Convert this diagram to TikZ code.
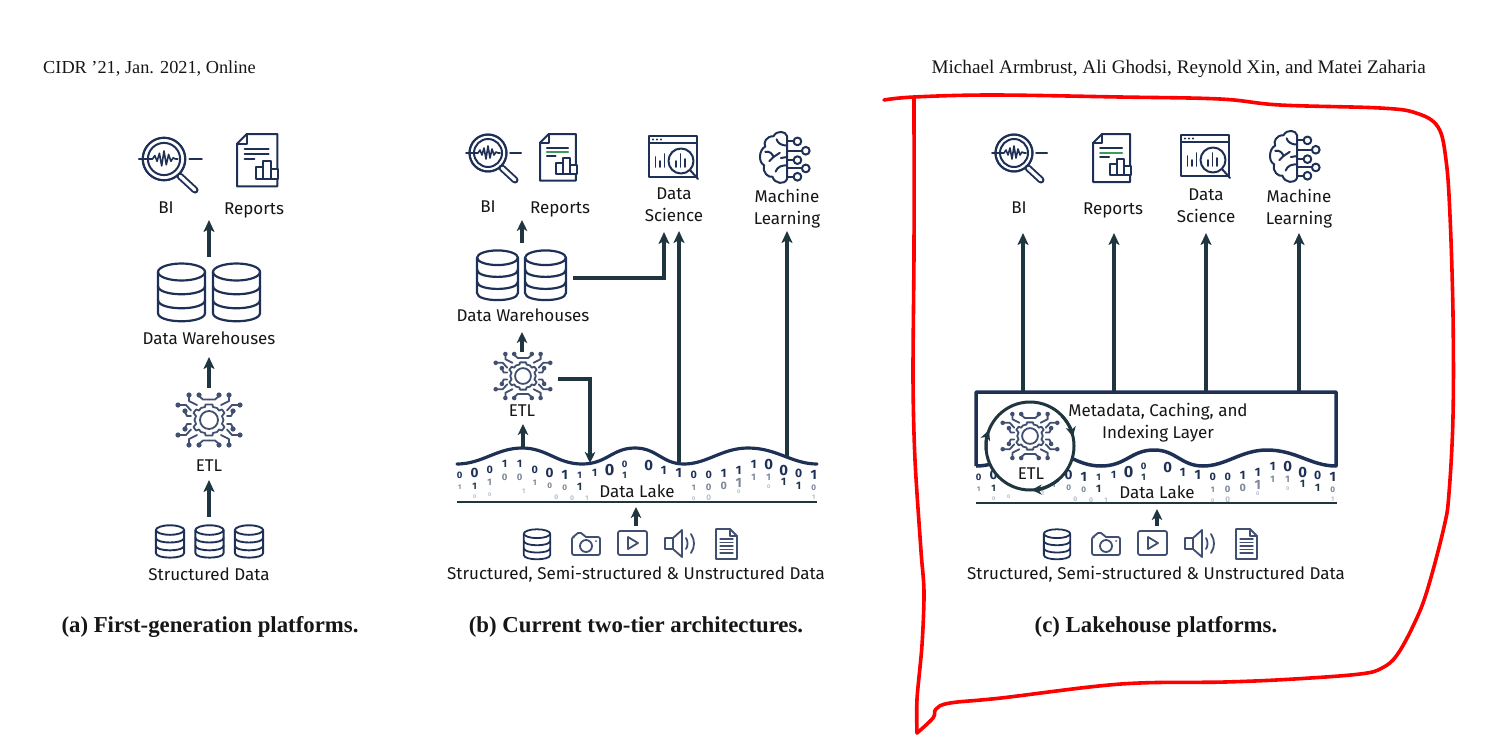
\documentclass[tikz,border=0pt]{standalone}
\usepackage{fontspec}
\setmainfont{Liberation Serif}
\setsansfont{Fira Sans}
\usetikzlibrary{arrows.meta,calc}
\definecolor{navy}{HTML}{1F3057}
\definecolor{slate}{HTML}{1F3540}
\definecolor{ink}{HTML}{161616}
\definecolor{bitgrey}{HTML}{7C8698}
\definecolor{bitpale}{HTML}{B8BECA}
\definecolor{hand}{HTML}{FF0000}
\definecolor{accent}{HTML}{3E9A5C}
\tikzset{
  x=1pt,y=-1pt,
  lbl/.style={font=\sffamily\fontsize{17}{19}\selectfont,text=ink,inner sep=0pt,align=center},
  headl/.style={font=\rmfamily\fontsize{18.3}{20}\selectfont,text=ink,inner sep=0pt},
  headr/.style={font=\rmfamily\fontsize{19.2}{20}\selectfont,text=ink,inner sep=0pt},
  capt/.style={font=\rmfamily\bfseries\fontsize{22.8}{24}\selectfont,text=ink,inner sep=0pt},
  flow/.style={draw=slate,line width=3.6pt,-{Stealth[length=12pt,width=11pt,inset=3pt]}},
  flowthin/.style={draw=slate,line width=3.3pt,-{Stealth[length=11pt,width=10.5pt,inset=3pt]}},
  icon/.style={draw=navy,line width=2pt,line join=round,line cap=round},
  iconthin/.style={draw=navy!85!white,line width=1.8pt,line join=round,line cap=round},
  digit/.style={inner sep=0pt},
  pics/biicon/.style={code={
    \draw[icon] (0,0) circle (18.5);
    \draw[icon] (0,0) circle (14);
    \draw[icon,line width=1.6pt] (-22,0)--(-10,0)--(-8,-3)--(-6,2)--(-4,-5)--(-2,6)--(0,-7)--(2,5)--(4,-4)--(6,2)--(8,-1)--(10,0)--(12,0);
    \draw[icon] (22,0)--(33,0);
    \draw[navy,line width=7pt,line cap=round] (14,15)--(27,27);
    \draw[white,line width=3.2pt,line cap=round] (14,15)--(27,27);
    \draw[icon] (0,0) circle (18.5);
  }},
  pics/repicon/.style={code={
    \draw[icon] (9,0)--(37,0)--(37,48)--(0,48)--(0,9)--cycle;
    \draw[icon] (9,0)--(9,9)--(0,9);
    \draw[icon] (7,14)--(29,14);
    \draw[icon,draw=#1] (7,18.5)--(29,18.5);
    \draw[icon] (7,23)--(16,23);
    \draw[icon,fill=white] (17,30)--(24,30)--(24,41)--(17,41)--cycle;
    \draw[icon,fill=white] (24,25)--(31,25)--(31,41)--(24,41)--cycle;
    \draw[icon,fill=white] (31,32)--(38,32)--(38,41)--(31,41)--cycle;
  }},
  pics/dsicon/.style={code={
    \draw[icon,line width=2.2pt] (0,0) rectangle (48,41);
    \draw[icon] (0,7)--(48,7);
    \foreach \q in {4,8,12} \fill[navy] (\q,3.5) circle (1.1);
    \draw[icon,line width=1.7pt] (6.5,21)--(6.5,31) (11,25)--(11,31) (15.5,18)--(15.5,31);
    \draw[icon,fill=white] (32,25) circle (12.5);
    \draw[icon,line width=1.7pt] (27,25)--(27,31) (31.5,18)--(31.5,31) (36,23)--(36,31);
    \draw[icon] (41,34)--(49,43);
  }},
  pics/brainicon/.style={code={
    \draw[icon] (26,5) .. controls (25,0) and (16,-1) .. (13,5)
       .. controls (6,5) and (3,11) .. (5,15)
       .. controls (-1,18) and (-2,30) .. (4,33)
       .. controls (2,40) and (8,45) .. (12,44)
       .. controls (14,51) and (24,52) .. (26,46)--cycle;
    \draw[icon] (26,10)--(32,10) (26,19)--(40,19) (26,28)--(32,28) (26,36)--(40,36) (26,44)--(32,44);
    \foreach \p/\q in {36/10,44/19,36/28,44/36,36/44} \draw[icon] (\p,\q) circle (3.7);
    \draw[icon] (26,14) .. controls (21,14) and (17,12) .. (16,8);
    \draw[icon] (5,20) .. controls (9,19) and (12,22) .. (13,25)--(19,21);
    \draw[icon] (13,25)--(9,29);
    \draw[icon] (26,33) .. controls (21,33) and (17,34) .. (15,39);
    \draw[icon] (26,25)--(20,26);
  }},
  pics/dbicon/.style={code={
    \draw[icon,line width=#1] (0,9) ellipse (23.5 and 8.5);
    \draw[icon,line width=#1] (-23.5,9)--(-23.5,50) .. controls (-23.5,61) and (23.5,61) .. (23.5,50)--(23.5,9);
    \draw[icon,line width=#1] (-23.5,23) .. controls (-23.5,34) and (23.5,34) .. (23.5,23);
    \draw[icon,line width=#1] (-23.5,37) .. controls (-23.5,48) and (23.5,48) .. (23.5,37);
  }},
  pics/etlicon/.style={code={
    \draw[iconthin] (0,0) circle (9);
    \draw[iconthin] (-4,-13)--(-3.5,-15.5)--(3.5,-15.5)--(4,-13)--(8,-12)--(10,-9.5)--(13,-10.5)--(15.5,-7)--(13,-4)--(14.5,0)--(13,4)--(15.5,7)--(13,10.5)--(10,9.5)--(8,12)--(4,13)--(3.5,15.5)--(-3.5,15.5)--(-4,13)--(-8,12)--(-10,9.5)--(-13,10.5)--(-15.5,7)--(-13,4)--(-14.5,0)--(-13,-4)--(-15.5,-7)--(-13,-10.5)--(-10,-9.5)--(-8,-12)--cycle;
    \foreach \sx in {1,-1} \foreach \sy in {1,-1} {
      \begin{scope}[xscale=\sx,yscale=\sy]
        \draw[iconthin] (10,-24)--(6,-20.5)--(0,-20.5);
        \draw[iconthin] (20,-24)--(20,-19)--(12,-15);
        \draw[iconthin] (30,-15)--(23,-15)--(18,-9.5);
        \draw[iconthin] (24,-8)--(22,-4)--(18,-4);
        \foreach \p/\q in {10/-25,20/-25,31/-15,24/-9} \fill[navy!85!white] (\p,\q) circle (2.6);
      \end{scope}
    }
  }},
  pics/camicon/.style={code={
    \draw[iconthin,rounded corners=2pt] (0,4)--(3,4)--(4,0)--(11,0)--(12,4)--(28,4)--(28,22)--(0,22)--cycle;
    \draw[iconthin] (14,13) circle (6);
    \fill[navy!85!white] (24,8) circle (1);
  }},
  pics/playicon/.style={code={
    \draw[iconthin,rounded corners=2pt] (0,0) rectangle (29,24);
    \draw[iconthin] (10,6)--(20,12)--(10,18)--cycle;
  }},
  pics/spkicon/.style={code={
    \draw[iconthin] (0,8)--(8,8)--(17,0)--(17,27)--(8,19)--(0,19)--cycle;
    \draw[iconthin] (8,8)--(8,19);
    \draw[iconthin] (21,8) .. controls (23,11) and (23,16) .. (21,19);
    \draw[iconthin] (26,4) .. controls (30,10) and (30,17) .. (26,23);
  }},
  pics/docicon/.style={code={
    \draw[iconthin] (0,0)--(14,0)--(21,7)--(21,30)--(0,30)--cycle;
    \draw[iconthin,line width=1.2pt] (14,0)--(14,7)--(21,7);
    \foreach \q in {10,13.5,17,20.5,24} \draw[iconthin,line width=1.3pt] (4,\q)--(17,\q);
  }},
  pics/lakebits/.style={code={
    \foreach \zx/\zy/\c/\s/\col [count=\n] in {
      58/405/0/7/navy,103/400/0/10/navy,148/390/0/8/navy,193/372/1/8/navy,238/372/1/8/navy,283/390/0/8/navy,328/400/0/10/navy,373/405/1/10/navy,418/405/1/7/navy,463/400/1/8/navy,508/390/0/12/navy,553/373/0/7/navy,625/375/0/11/navy,670/390/1/9/navy,715/400/1/10/navy,760/405/0/8/navy,805/405/0/8/navy,850/400/1/9/navy,895/390/1/9/navy,940/373/1/9/navy,985/373/0/11/navy,1030/390/0/11/navy,1075/400/0/9/navy,1120/405/1/10/navy,
      58/442/1/5/bitgrey,103/438/1/7/slate,148/428/1/7/bitgrey,193/412/0/7/bitgrey,238/412/0/7/bitgrey,283/428/1/6/bitgrey,328/438/0/6/bitgrey,373/443/0/6/bitgrey,418/442/1/8/slate,553/407/1/7/slate,760/442/1/6/bitgrey,805/442/0/7/bitgrey,850/438/0/8/bitgrey,895/428/1/10/bitgrey,940/412/1/7/bitgrey,985/412/1/7/bitgrey,1030/425/1/8/slate,1075/438/1/8/slate,1120/442/0/6/bitgrey,
      103/470/0/4/bitpale,148/465/0/4/bitpale,250/455/1/5/bitpale,348/472/0/5/bitpale,395/476/0/5/bitpale,440/474/1/5/bitpale,760/475/0/4/bitpale,805/472/0/6/bitpale,895/455/0/4/bitpale,985/440/0/4/bitpale,1120/472/1/5/bitpale}
      {
        \pgfmathsetmacro\ss{\s*1.35}
        \pgfmathtruncatemacro\hid{#1*((((\zx-50)/3-54)/10)^2+(((\zy-372)/3+20)/10)^2<20.5)}
        \ifnum\hid=0
          \node[digit,text=\col,font=\sffamily\bfseries\fontsize{\ss}{\ss}\selectfont] (bit\n) at ({(\zx-50)/3},{(\zy-372)/3}) {\c};
        \fi
      }
  }},
}
\newcommand{\wavepath}{(0,0) .. controls (25,0) and (40,-16) .. (65,-16) .. controls (90,-16) and (100,0) .. (125,0) .. controls (150,0) and (155,-16) .. (178,-16) .. controls (200,-16) and (205,0) .. (227,0) .. controls (250,0) and (265,-16) .. (291,-16) .. controls (320,-16) and (335,0) .. (360,0)}
\begin{document}
\begin{tikzpicture}
\useasboundingbox (0,0) rectangle (1506,734);
\fill[white] (0,0) rectangle (1506,734);

% headers
\node[headl,anchor=west] (hl) at (43,69) {CIDR ’21, Jan. 2021, Online};
\node[headr,anchor=east] (hr) at (1426,69) {Michael Armbrust, Ali Ghodsi, Reynold Xin, and Matei Zaharia};
\node[capt] (ca) at (210,627) {(a) First-generation platforms.};
\node[capt] (cb) at (636,627) {(b) Current two-tier architectures.};
\node[capt] (cc) at (1156,627) {(c) Lakehouse platforms.};

% ---------- panel a ----------
\pic[scale=1.15] (abi) at (164,159) {biicon};
\pic[scale=1.09] (arep) at (237,134) {repicon={navy}};
\pic (adb1) at (181.5,263) {dbicon={2.2pt}};
\pic (adb2) at (236.5,263) {dbicon={2.2pt}};
\pic (aetl) at (209,420) {etlicon};
\pic[xscale=.6,yscale=.56] (as1) at (170,525) {dbicon={1.9pt}};
\pic[xscale=.6,yscale=.56] (as2) at (209.5,525) {dbicon={1.9pt}};
\pic[xscale=.6,yscale=.56] (as3) at (249,525) {dbicon={1.9pt}};
\node[lbl] (abil) at (166,208) {BI};
\node[lbl] (arepl) at (254,210) {Reports};
\node[lbl] (adwl) at (209,338) {Data Warehouses};
\node[lbl] (aetll) at (209,466) {ETL};
\node[lbl] (asl) at (209,574) {Structured Data};
\coordinate (a1s) at (209,257); \coordinate (a1e) at (209,220);
\coordinate (a2s) at (209,388); \coordinate (a2e) at (209,357);
\coordinate (a3s) at (209,517); \coordinate (a3e) at (209,480);
\draw[flow] (a1s)--(a1e);
\draw[flow] (a2s)--(a2e);
\draw[flow] (a3s)--(a3e);

% ---------- panel b ----------
\pic (bbi) at (488,153) {biicon};
\pic[scale=.97] (brep) at (540,134) {repicon={accent}};
\pic (bds) at (649,136) {dsicon};
\pic[scale=1.04] (bbr) at (760,131) {brainicon};
\pic[xscale=.87,yscale=.86] (bdb1) at (497.5,250) {dbicon={2.2pt}};
\pic[xscale=.87,yscale=.86] (bdb2) at (545.5,250) {dbicon={2.2pt}};
\pic[scale=.88] (betl) at (523,376) {etlicon};
\node[lbl] (bbil) at (488,207) {BI};
\node[lbl] (brepl) at (560,209) {Reports};
\node[lbl] (bdsl) at (674,205) {Data\\[3pt]Science};
\node[lbl] (bbrl) at (787,209) {Machine\\[3pt]Learning};
\node[lbl] (bdwl) at (523,315) {Data Warehouses};
\node[lbl] (betll) at (522,411) {ETL};
\begin{scope}[shift={(457,464)}]
  \pic (bbits) at (0,0) {lakebits={0}};
  \draw[navy,line width=3.2pt,line cap=round] \wavepath;
\end{scope}
\node[lbl] (bdl) at (637,491) {Data Lake};
\coordinate (blakeL) at (457,502); \coordinate (blakeR) at (817,502);
\draw[slate,line width=2.6pt] (blakeL)--(blakeR);
\pic[xscale=.56,yscale=.52] (bsdb) at (537,529) {dbicon={1.8pt}};
\pic (bscam) at (572,533) {camicon};
\pic (bsply) at (618,531) {playicon};
\pic (bsspk) at (665,530) {spkicon};
\pic (bsdoc) at (716,529) {docicon};
\node[lbl] (bsl) at (636,574) {Structured, Semi-structured \& Unstructured Data};
\coordinate (b1s) at (522,243); \coordinate (b1e) at (522,220);
\coordinate (b2s) at (522,352); \coordinate (b2e) at (522,332);
\coordinate (b3s) at (523,448); \coordinate (b3e) at (523,424);
\coordinate (b4s) at (573,278); \coordinate (b4m) at (664,278); \coordinate (b4e) at (664,232);
\coordinate (b5s) at (679,462); \coordinate (b5e) at (679,231);
\coordinate (b6s) at (787,457); \coordinate (b6e) at (787,231);
\coordinate (b7s) at (558,379); \coordinate (b7m) at (590,379); \coordinate (b7e) at (590,463);
\coordinate (b8s) at (636,526); \coordinate (b8e) at (636,507);
\draw[flowthin] (b1s)--(b1e);
\draw[flowthin] (b2s)--(b2e);
\draw[flowthin] (b3s)--(b3e);
\draw[flow,line width=4pt] (b4s)--(b4m)--(b4e);
\draw[flow,line width=4.2pt] (b5s)--(b5e);
\draw[flow] (b6s)--(b6e);
\draw[flowthin] (b7s)--(b7m)--(b7e);
\draw[flowthin] (b8s)--(b8e);

% ---------- panel c ----------
\pic (cbi) at (1014,153) {biicon};
\pic (crep) at (1093,134) {repicon={accent}};
\pic (cds) at (1181,135) {dsicon};
\pic[scale=1.04] (cbr) at (1270,130) {brainicon};
\node[lbl] (cbil) at (1019,208) {BI};
\node[lbl] (crepl) at (1113,210) {Reports};
\node[lbl] (cdsl) at (1206,206) {Data\\[3pt]Science};
\node[lbl] (cbrl) at (1299,209) {Machine\\[3pt]Learning};
\begin{scope}[shift={(976,466)}]
  \pic (cbits) at (0,0) {lakebits={1}};
  \draw[navy,line width=3.5pt,line join=round] (0,0)--(0,-74)--(360,-74)--(360,0) .. controls (335,0) and (320,-16) .. (291,-16) .. controls (265,-16) and (250,0) .. (227,0) .. controls (205,0) and (200,-16) .. (178,-16) .. controls (155,-16) and (150,0) .. (125,0) .. controls (100,0) and (90,-16) .. (65,-16) .. controls (40,-16) and (25,0) .. (0,0);
\end{scope}
\node[lbl] (cml) at (1158,423) {Metadata, Caching, and\\[3pt]Indexing Layer};
\coordinate (cetlc) at (1030,446);
\draw[slate,line width=3pt,fill=white] (cetlc) circle (44);
\draw[slate,line width=3pt,-{Stealth[length=10pt,width=10pt,inset=3pt]}] (1062,416) arc (-43:-12:44);
\draw[slate,line width=3pt,-{Stealth[length=10pt,width=10pt,inset=3pt]}] (1058.3,479.7) arc (50:88:44);
\draw[slate,line width=3pt,-{Stealth[length=10pt,width=10pt,inset=3pt]}] (986.2,449.8) arc (175:201:44);
\pic[scale=.88] (cetl) at (1030,436) {etlicon};
\node[lbl] (cetll) at (1031,474) {ETL};
\node[lbl] (cdl) at (1157,492) {Data Lake};
\coordinate (clakeL) at (976,503); \coordinate (clakeR) at (1337,503);
\draw[slate,line width=2.6pt] (clakeL)--(clakeR);
\pic[xscale=.56,yscale=.52] (csdb) at (1057,529) {dbicon={1.8pt}};
\pic (cscam) at (1092,533) {camicon};
\pic (csply) at (1138,531) {playicon};
\pic (csspk) at (1185,530) {spkicon};
\pic (csdoc) at (1236,529) {docicon};
\node[lbl] (csl) at (1156,574) {Structured, Semi-structured \& Unstructured Data};
\coordinate (c1s) at (1023,392); \coordinate (c1e) at (1023,233);
\coordinate (c2s) at (1114,392); \coordinate (c2e) at (1114,233);
\coordinate (c3s) at (1206,392); \coordinate (c3e) at (1206,233);
\coordinate (c4s) at (1299,392); \coordinate (c4e) at (1299,233);
\coordinate (c5s) at (1157,526); \coordinate (c5e) at (1157,509);
\draw[flow] (c1s)--(c1e);
\draw[flow] (c2s)--(c2e);
\draw[flow] (c3s)--(c3e);
\draw[flow] (c4s)--(c4e);
\draw[flowthin] (c5s)--(c5e);

% ---------- red hand-drawn outline ----------
\draw[hand,line width=3.6pt,line cap=round,line join=round]
  plot[smooth,tension=.6] coordinates {(884,100) (914,97) (992,95) (1120,97) (1220,99) (1280,105) (1380,108) (1416,113) (1438,127) (1446,160) (1450,216) (1453,315) (1453,416) (1449,493) (1444,527) (1427,591) (1414,624) (1397,655) (1382,668) (1360,674) (1294,679) (1225,682) (1121,684) (1001,698) (950,703) (936,709) (933,718) (917,733)};
\draw[hand,line width=3.6pt,line cap=round]
  plot[smooth,tension=.5] coordinates {(914,97) (914,250) (913,378) (915,460) (921,551) (924,592) (922,645) (917,699) (917,733)};
\end{tikzpicture}
\end{document}
